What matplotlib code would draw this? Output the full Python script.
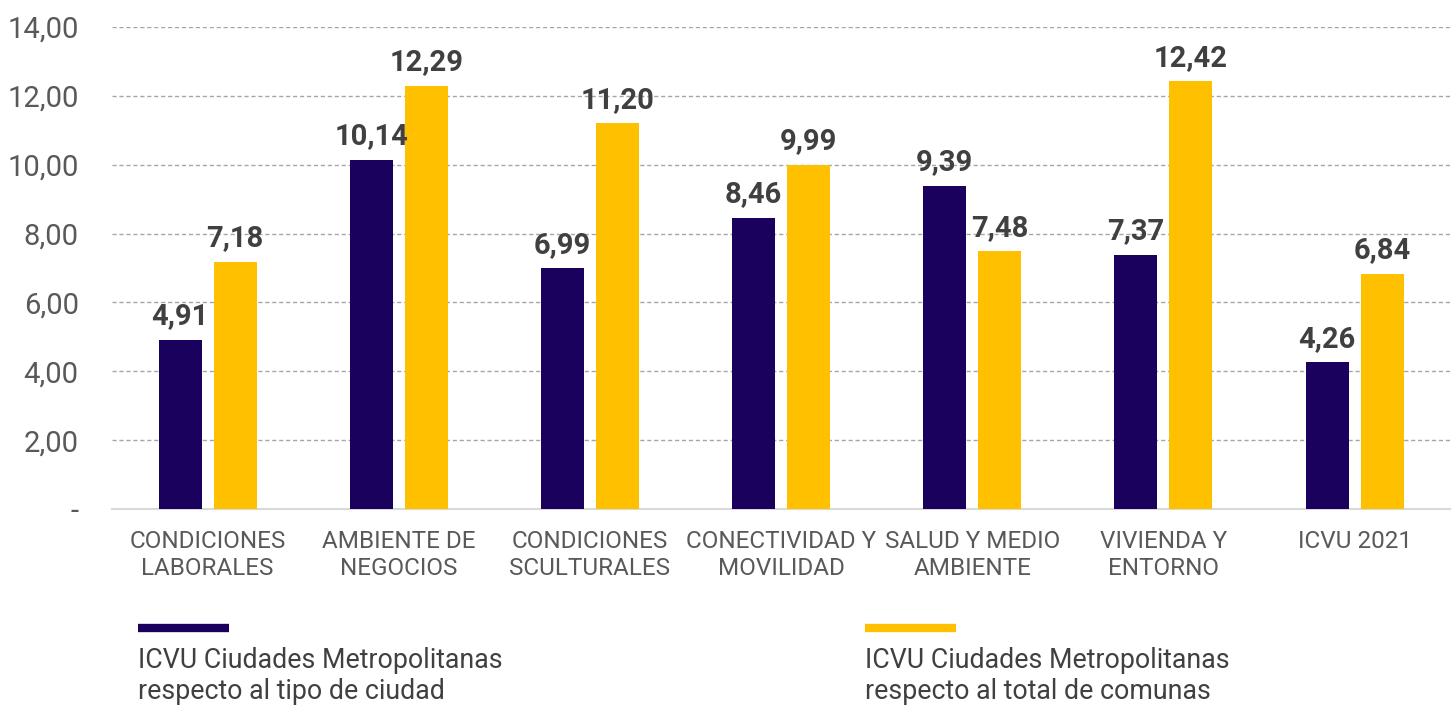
import numpy as np
import matplotlib.pyplot as plt
from matplotlib.lines import Line2D

plt.rcParams['font.family'] = ['Roboto', 'DejaVu Sans']

# datos
categorias = ['CONDICIONES\nLABORALES', 'AMBIENTE DE\nNEGOCIOS', 'CONDICIONES\nSCULTURALES',
              'CONECTIVIDAD Y\nMOVILIDAD', 'SALUD Y MEDIO\nAMBIENTE', 'VIVIENDA Y\nENTORNO', 'ICVU 2021']
tipo_ciudad = [4.91, 10.14, 6.99, 8.46, 9.39, 7.37, 4.26]
total_comunas = [7.18, 12.29, 11.20, 9.99, 7.48, 12.42, 6.84]
serie_nombres = ['ICVU Ciudades Metropolitanas\nrespecto al tipo de ciudad',
                 'ICVU Ciudades Metropolitanas\nrespecto al total de comunas']
yticks = [0, 2, 4, 6, 8, 10, 12, 14]

azul = '#1a015e'
amarillo = '#ffc000'
gris = '#595959'

fig = plt.figure(figsize=(14.56, 7.06), dpi=100)
ax = fig.add_axes([0.0769, 0.279, 0.9191, 0.6828])

x = np.arange(len(categorias))
w = 0.225
off = 0.144
b1 = ax.bar(x - off, tipo_ciudad, w, color=azul, zorder=3)
b2 = ax.bar(x + off, total_comunas, w, color=amarillo, zorder=3)

def fmt(v):
    return f'{v:.2f}'.replace('.', ',')

for bars, vals in [(b1, tipo_ciudad), (b2, total_comunas)]:
    for r, v in zip(bars, vals):
        ax.annotate(fmt(v), (r.get_x() + r.get_width() / 2, v), xytext=(0, 7),
                    textcoords='offset points', ha='center', va='bottom',
                    fontsize=21, fontweight='bold', color='#404040')

ax.set_xlim(-0.5, len(categorias) - 0.5)
ax.set_ylim(0, 14)
ax.set_yticks(yticks)
ax.set_yticklabels(['-' if t == 0 else fmt(t) for t in yticks], fontsize=21, color=gris)
ax.set_xticks(x)
ax.set_xticklabels(categorias, fontsize=17.5, color=gris, linespacing=1.25)
ax.tick_params(axis='both', length=0)
ax.tick_params(axis='y', pad=24)
ax.tick_params(axis='x', pad=15)
for y in yticks[1:]:
    ax.axhline(y, color='#a6a6a6', lw=1, ls=(0, (3, 2)), zorder=1)
for s in ['top', 'right', 'left']:
    ax.spines[s].set_visible(False)
ax.spines['bottom'].set_color('#d9d9d9')
ax.spines['bottom'].set_linewidth(1.5)

# leyenda
for i, (nombre, col) in enumerate(zip(serie_nombres, [azul, amarillo])):
    x0 = [138, 865][i] / 1456
    fig.add_artist(Line2D([x0, x0 + 91 / 1456], [1 - 628 / 706] * 2, color=col, lw=6,
                          transform=fig.transFigure, solid_capstyle='butt'))
    fig.text(x0, 1 - 647 / 706, nombre, fontsize=19.3, color='#404040', va='top',
             ha='left', linespacing=1.18)

fig.savefig('out.png', dpi=100)
